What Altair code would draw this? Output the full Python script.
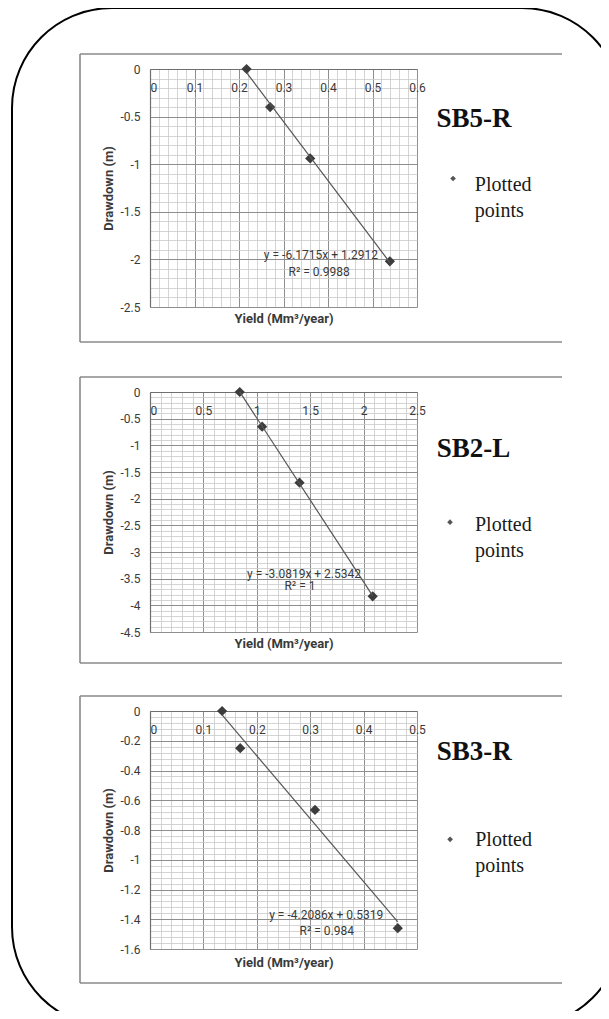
import altair as alt
import pandas as pd

# ---------------- data ----------------
sb5_yield = [0.217, 0.270, 0.360, 0.539]
sb5_drawdown = [0.0, -0.40, -0.94, -2.02]
sb2_yield = [0.84, 1.05, 1.40, 2.085]
sb2_drawdown = [0.0, -0.65, -1.70, -3.83]
sb3_yield = [0.135, 0.169, 0.309, 0.464]
sb3_drawdown = [0.0, -0.25, -0.665, -1.46]

panel_names = ["SB5-R", "SB2-L", "SB3-R"]
equations = ["y = -6.1715x + 1.2912", "y = -3.0819x + 2.5342", "y = -4.2086x + 0.5319"]
r_squared = ["R² = 0.9988", "R² = 1", "R² = 0.984"]
x_titles = ["Yield  (Mm³/year)", "Yield (Mm³/year)", "Yield (Mm³/year)"]
y_title = "Drawdown (m)"
legend_text = ["Plotted", "points"]

# axis domains and gridline steps (major, minor) per panel
x_domains = [[0, 0.6], [0, 2.5], [0, 0.5]]
x_steps = [(0.1, 0.02), (0.5, 0.1), (0.1, 0.02)]
y_domains = [[-2.5, 0], [-4.5, 0], [-1.6, 0]]
y_steps = [(0.5, 0.1), (0.5, 0.1), (0.2, 0.04)]

MAJOR = "#8e8e8e"
MINOR = "#c9c9c9"
TXT = "#3a3a3a"
SANS = "Roboto"
SERIF = "Liberation Serif"

one = alt.Data(values=[{"k": 1}])


def tick_values(dom, step):
    n = int(round((dom[1] - dom[0]) / step))
    return [round(dom[0] + i * step, 4) for i in range(n + 1)]


def major_test(step):
    return f"abs(datum.value/{step} - round(datum.value/{step})) < 0.001"


def make_axis(orient, dom, steps, **kw):
    major, minor = steps
    t = major_test(major)
    return alt.Axis(
        orient=orient,
        values=tick_values(dom, minor),
        grid=True,
        gridColor={"condition": {"test": t, "value": MAJOR}, "value": MINOR},
        gridWidth={"condition": {"test": t, "value": 1}, "value": 0.8},
        labelExpr=f"{t} ? '' + (round(datum.value*1000)/1000) : ''",
        labelOverlap=False,
        labelFlush=False,
        ticks=False,
        tickSize=0,
        domainColor="#6f6f6f",
        domainWidth=1.2,
        labelColor=TXT,
        labelFont=SANS,
        labelFontSize=12,
        titleFont=SANS,
        titleFontSize=13,
        titleFontWeight="bold",
        titleColor=TXT,
        titleBaseline="middle",
        **kw,
    )


def panel(i, xs, ys, yrange, xoffset, xtitle_y, pos):
    df = pd.DataFrame({"x": xs, "y": ys})
    xaxis = make_axis("top", x_domains[i], x_steps[i], offset=xoffset,
                      labelBaseline="top", labelPadding=-13,
                      labelAlign={"condition": {"test": "datum.value == 0", "value": "left"},
                                  "value": "center"},
                      title=x_titles[i], titleY=xtitle_y)
    yaxis = make_axis("left", y_domains[i], y_steps[i], labelPadding=10,
                      title=y_title, titleX=-42)

    def xs_():
        return alt.Scale(domain=x_domains[i], range=[0, 267], nice=False, zero=False)

    def ys_():
        return alt.Scale(domain=y_domains[i], range=yrange, nice=False, zero=False)

    pts = alt.Chart(df).mark_point(
        shape="diamond", filled=True, size=105, color="#3c3c3c", opacity=1
    ).encode(x=alt.X("x:Q", scale=xs_(), axis=xaxis), y=alt.Y("y:Q", scale=ys_(), axis=yaxis))

    line = alt.Chart(df).transform_regression("x", "y").mark_line(
        color="#555555", strokeWidth=1.2
    ).encode(x=alt.X("x:Q", scale=xs_(), axis=None), y=alt.Y("y:Q", scale=ys_(), axis=None))

    def at(xy):
        return dict(
            x=alt.XDatum(xy[0], type="quantitative", scale=xs_(), axis=None),
            y=alt.YDatum(xy[1], type="quantitative", scale=ys_(), axis=None),
        )

    def txt(text, xy, **mk):
        return alt.Chart(one).mark_text(text=text, **mk).encode(**at(xy))

    eq = txt(equations[i], pos["eq"], font=SANS, fontSize=12, color=TXT, align="center", baseline="middle")
    r2 = txt(r_squared[i], pos["r2"], font=SANS, fontSize=12, color=TXT, align="center", baseline="middle")
    lab = txt(panel_names[i], pos["label"], font=SERIF, fontSize=27, fontWeight="bold",
              color="#111111", align="left", baseline="alphabetic")
    leg = txt(legend_text, pos["leg"], font=SERIF, fontSize=20, color="#1a1a1a",
              align="left", baseline="alphabetic", lineHeight=26)
    sym = alt.Chart(one).mark_point(shape="diamond", filled=True, size=32, color="#555555",
                                    opacity=1).encode(**at(pos["sym"]))
    return [pts, line, eq, r2, lab, sym, leg]


p1 = panel(0, sb5_yield, sb5_drawdown, [238, 0], 0, 249,
           {"eq": (0.384, -1.954), "r2": (0.380, -2.132), "label": (0.644, -0.606),
            "sym": (0.681, -1.15), "leg": (0.730, -1.278)})
p2 = panel(1, sb2_yield, sb2_drawdown, [563, 323], -323, 251,
           {"eq": (1.442, -3.41), "r2": (1.404, -3.64), "label": (2.684, -1.224),
            "sym": (2.809, -2.44), "leg": (3.043, -2.60)})
p3 = panel(2, sb3_yield, sb3_drawdown, [880, 642], -642, 251,
           {"eq": (0.330, -1.371), "r2": (0.331, -1.479), "label": (0.537, -0.329),
            "sym": (0.562, -0.863), "leg": (0.609, -0.905)})

# ---------------- decoration: panel frames and rounded outer border ----------------
deco = []
for top, bottom in [(-15, 273), (308, 594), (627, 914)]:
    for enc in (
        dict(x=alt.value(-70), x2=alt.value(412), y=alt.value(top)),
        dict(x=alt.value(-70), x2=alt.value(412), y=alt.value(bottom)),
        dict(x=alt.value(-70), y=alt.value(top), y2=alt.value(bottom)),
    ):
        deco.append(alt.Chart(one).mark_rule(color="#8a8a8a", strokeWidth=1.6).encode(**enc))

outer = alt.Chart(one).mark_rect(
    filled=False, fill="transparent", stroke="#000000", strokeWidth=2, cornerRadius=100
).encode(x=alt.value(-138), x2=alt.value(472), y=alt.value(-61), y2=alt.value(958))

chart = (
    alt.layer(*p1, *p2, *p3, *deco, outer)
    .resolve_scale(x="independent", y="independent")
    .properties(
        width=451,
        height=942,
        padding={"left": 142, "top": 61, "right": 0, "bottom": 0},
        autosize=alt.AutoSizeParams(type="none"),
        background="white",
    )
    .configure_view(strokeWidth=0)
)

chart.save("out.html", embed_options={"renderer": "svg", "actions": False})
